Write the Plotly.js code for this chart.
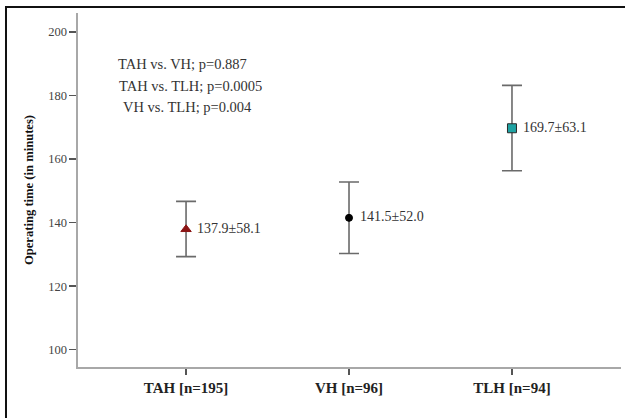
<!DOCTYPE html>
<html>
<head>
<meta charset="utf-8">
<script src="https://cdn.plot.ly/plotly-3.0.1.min.js"></script>
<style>html,body{margin:0;padding:0;background:#fff;overflow:hidden}#chart{width:625px;height:418px}</style>
</head>
<body>
<div id="chart"></div>
<script>
const categories = ["TAH [n=195]", "VH [n=96]", "TLH [n=94]"];
const means = [137.9, 141.5, 169.7];
const ciUpper = [146.7, 152.8, 183.2];
const ciLower = [129.3, 130.3, 156.3];
const meanLabels = ["137.9±58.1", "141.5±52.0", "169.7±63.1"];
const pValueLines = ["TAH vs. VH; p=0.887", "TAH vs. TLH; p=0.0005", "VH vs. TLH; p=0.004"];
const yTicks = [100, 120, 140, 160, 180, 200];

const symbols = ["triangle-up", "circle", "square"];
const colors = ["#8b1414", "#000000", "#1fa3a3"];
const sizes = [9, 7, 9];
const xIdx = categories.map((c, i) => i);

const traces = categories.map((c, i) => ({
  type: "scatter",
  mode: "markers",
  x: [i],
  y: [means[i]],
  marker: {symbol: symbols[i], color: colors[i], size: sizes[i],
           line: {color: i === 2 ? "#2a2a2a" : colors[i], width: 1}},
  error_y: {type: "data", symmetric: false,
            array: [ciUpper[i] - means[i]], arrayminus: [means[i] - ciLower[i]],
            color: "#6a6a6a", thickness: 1.6, width: 10},
  showlegend: false,
  hoverinfo: "skip",
  cliponaxis: false
}));

const serif = "Liberation Serif, Times New Roman, serif";
const annotations = [];
categories.forEach((c, i) => {
  annotations.push({x: i, y: means[i], xref: "x", yref: "y", text: meanLabels[i],
    showarrow: false, xanchor: "left", yanchor: "middle", xshift: 9, yshift: 1,
    font: {family: serif, size: 14, color: "#333"}});
});
const pxPos = [[0.1925, 0.855], [0.207, 0.794], [0.2015, 0.734]];
pValueLines.forEach((t, i) => {
  annotations.push({x: pxPos[i][0], y: pxPos[i][1], xref: "paper", yref: "paper", text: t,
    showarrow: false, xanchor: "center", yanchor: "middle",
    font: {family: serif, size: 14.5, color: "#333"}});
});

const layout = {
  width: 625, height: 418,
  margin: {l: 78, r: 4, t: 13, b: 51, pad: 0},
  paper_bgcolor: "#fff", plot_bgcolor: "#fff",
  xaxis: {range: [-0.663, 2.669], tickmode: "array", tickvals: xIdx, ticktext: categories,
    showgrid: false, zeroline: false, showline: true, linecolor: "#a8a8a8", linewidth: 1.6,
    ticks: "outside", ticklen: 6, tickwidth: 1.4, tickcolor: "#555",
    tickfont: {family: serif, size: 15, color: "#222", weight: "bold"}},
  yaxis: {range: [94.56, 205.97], tickmode: "array", tickvals: yTicks,
    showgrid: false, zeroline: false, showline: true, linecolor: "#a8a8a8", linewidth: 1.6,
    ticks: "outside", ticklen: 7, tickwidth: 1.4, tickcolor: "#555",
    tickfont: {family: serif, size: 12.5, color: "#444"},
    title: {text: "Operating time (in minutes)", standoff: 12,
      font: {family: serif, size: 12.6, color: "#111", weight: "bold"}}},
  annotations: annotations,
  shapes: [{type: "path", xref: "paper", yref: "paper",
    path: "M -0.1326 -0.2 L -0.1326 1.0169 L 1.02 1.0169",
    line: {color: "#111", width: 2}}]
};

Plotly.newPlot("chart", traces, layout, {staticPlot: true, displayModeBar: false});
</script>
</body>
</html>
